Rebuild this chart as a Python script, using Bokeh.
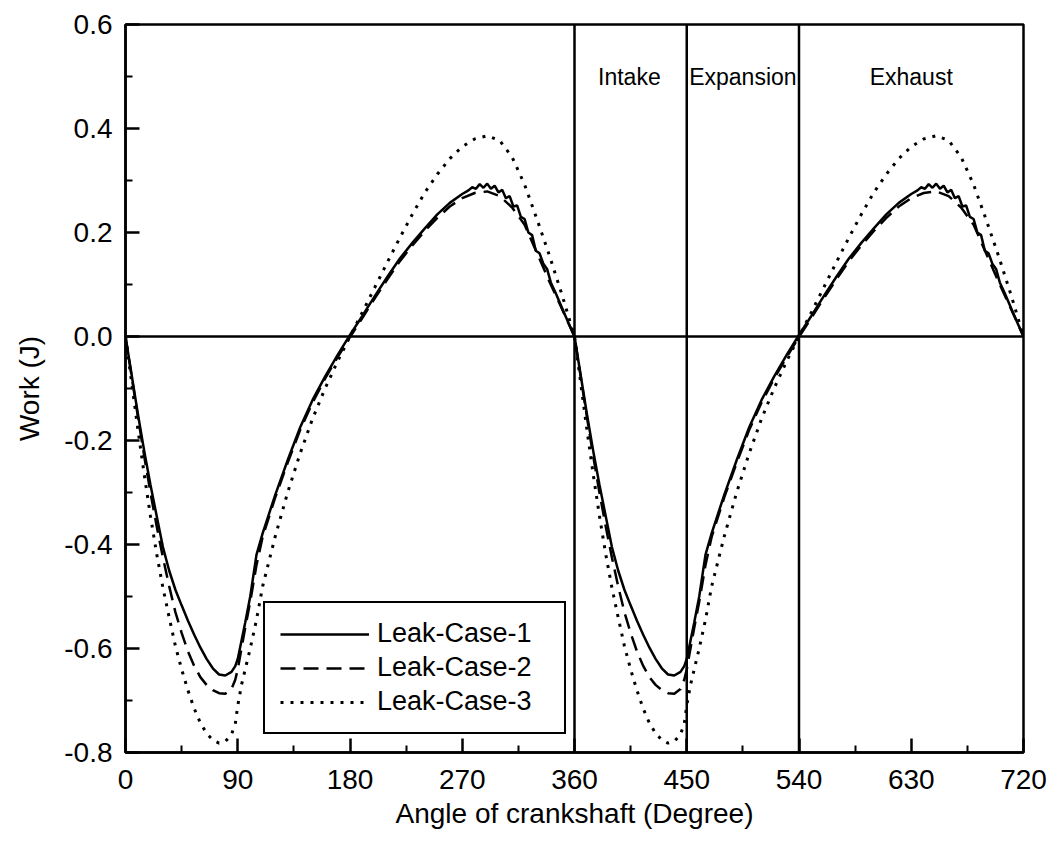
from bokeh.plotting import figure
from bokeh.models import Span, Label, FixedTicker, PrintfTickFormatter
from bokeh.embed import file_html
from bokeh.resources import INLINE

# ---------------- data ----------------
angle_solid = [0, 5, 10, 15, 20, 25, 30, 35, 40, 45, 50, 55, 60, 65, 70, 75, 80, 85, 88, 90,
               93, 96, 100, 105, 110, 120, 130, 140, 150, 160, 170, 180, 190, 200, 210, 220,
               230, 240, 250, 260, 270, 275, 278, 281, 284, 287, 290, 293, 296, 299, 302, 305,
               308, 311, 314, 317, 320, 323, 326, 329, 332, 335, 338, 341, 345, 350, 355, 360,
               365, 370, 375, 380, 385, 390, 395, 400, 405, 410, 415, 420, 425, 430, 435, 440,
               445, 448, 450, 453, 456, 460, 465, 470, 480, 490, 500, 510, 520, 530, 540, 550,
               560, 570, 580, 590, 600, 610, 620, 630, 635, 638, 641, 644, 647, 650, 653, 656,
               659, 662, 665, 668, 671, 674, 677, 680, 683, 686, 689, 692, 695, 698, 701, 705,
               710, 715, 720]
leak_case_1 = [0, -0.075, -0.15, -0.22, -0.285, -0.345, -0.405, -0.45, -0.487, -0.517, -0.546,
               -0.573, -0.598, -0.62, -0.638, -0.65, -0.652, -0.645, -0.634, -0.62, -0.585, -0.55,
               -0.5, -0.42, -0.378, -0.305, -0.238, -0.175, -0.122, -0.077, -0.036, 0.003, 0.04,
               0.078, 0.115, 0.15, 0.18, 0.208, 0.235, 0.257, 0.274, 0.281, 0.287, 0.284, 0.293,
               0.286, 0.294, 0.284, 0.29, 0.277, 0.282, 0.266, 0.27, 0.25, 0.252, 0.23, 0.226,
               0.2, 0.195, 0.165, 0.16, 0.14, 0.13, 0.104, 0.083, 0.055, 0.027, 0,
               -0.075, -0.15, -0.22, -0.285, -0.345, -0.405, -0.45, -0.487, -0.517, -0.546,
               -0.573, -0.598, -0.62, -0.638, -0.65, -0.652, -0.645, -0.634, -0.62, -0.585, -0.55,
               -0.5, -0.42, -0.378, -0.305, -0.238, -0.175, -0.122, -0.077, -0.036, 0.003, 0.04,
               0.078, 0.115, 0.15, 0.18, 0.208, 0.235, 0.257, 0.274, 0.281, 0.287, 0.284, 0.293,
               0.286, 0.294, 0.284, 0.29, 0.277, 0.282, 0.266, 0.27, 0.25, 0.252, 0.23, 0.226,
               0.2, 0.195, 0.165, 0.16, 0.14, 0.13, 0.104, 0.083, 0.055, 0.027, 0]

angle = [0, 5, 10, 15, 20, 25, 30, 35, 40, 45, 50, 55, 60, 65, 70, 75, 80, 85, 88, 90, 93, 96,
         100, 105, 110, 120, 130, 140, 150, 160, 170, 180, 190, 200, 210, 220, 230, 240, 250,
         260, 270, 280, 290, 300, 310, 320, 330, 340, 350, 360,
         365, 370, 375, 380, 385, 390, 395, 400, 405, 410, 415, 420, 425, 430, 435, 440, 445,
         448, 450, 453, 456, 460, 465, 470, 480, 490, 500, 510, 520, 530, 540, 550, 560, 570,
         580, 590, 600, 610, 620, 630, 640, 650, 660, 670, 680, 690, 700, 710, 720]
leak_case_2 = [0, -0.078, -0.155, -0.23, -0.3, -0.365, -0.425, -0.48, -0.53, -0.57, -0.605,
               -0.633, -0.655, -0.67, -0.68, -0.686, -0.687, -0.678, -0.66, -0.64, -0.6, -0.56,
               -0.51, -0.44, -0.385, -0.31, -0.243, -0.18, -0.127, -0.081, -0.04, -0.001, 0.036,
               0.074, 0.11, 0.145, 0.175, 0.203, 0.228, 0.25, 0.266, 0.276, 0.279, 0.27, 0.248,
               0.215, 0.16, 0.105, 0.053, 0,
               -0.078, -0.155, -0.23, -0.3, -0.365, -0.425, -0.48, -0.53, -0.57, -0.605,
               -0.633, -0.655, -0.67, -0.68, -0.686, -0.687, -0.678, -0.66, -0.64, -0.6, -0.56,
               -0.51, -0.44, -0.385, -0.31, -0.243, -0.18, -0.127, -0.081, -0.04, -0.001, 0.036,
               0.074, 0.11, 0.145, 0.175, 0.203, 0.228, 0.25, 0.266, 0.276, 0.279, 0.27, 0.248,
               0.215, 0.16, 0.105, 0.053, 0]
leak_case_3 = [0, -0.09, -0.18, -0.265, -0.345, -0.418, -0.483, -0.54, -0.595, -0.64, -0.68,
               -0.715, -0.743, -0.763, -0.776, -0.782, -0.779, -0.765, -0.745, -0.71, -0.67,
               -0.64, -0.6, -0.545, -0.48, -0.385, -0.3, -0.225, -0.158, -0.1, -0.048, 0.0,
               0.047, 0.095, 0.143, 0.19, 0.235, 0.277, 0.312, 0.342, 0.365, 0.38, 0.386, 0.377,
               0.345, 0.292, 0.225, 0.155, 0.08, 0,
               -0.09, -0.18, -0.265, -0.345, -0.418, -0.483, -0.54, -0.595, -0.64, -0.68,
               -0.715, -0.743, -0.763, -0.776, -0.782, -0.779, -0.765, -0.745, -0.71, -0.67,
               -0.64, -0.6, -0.545, -0.48, -0.385, -0.3, -0.225, -0.158, -0.1, -0.048, 0.0,
               0.047, 0.095, 0.143, 0.19, 0.235, 0.277, 0.312, 0.342, 0.365, 0.38, 0.386, 0.377,
               0.345, 0.292, 0.225, 0.155, 0.08, 0]

series_names = ["Leak-Case-1", "Leak-Case-2", "Leak-Case-3"]
x_major_ticks = [0, 90, 180, 270, 360, 450, 540, 630, 720]
x_minor_ticks = [45, 135, 225, 315, 405, 495, 585, 675]
y_major_ticks = [-0.8, -0.6, -0.4, -0.2, 0.0, 0.2, 0.4, 0.6]
y_minor_ticks = [-0.7, -0.5, -0.3, -0.1, 0.1, 0.3, 0.5]
stroke_dividers = [360, 450, 540]
stroke_labels = ["Intake", "Expansion", "Exhaust"]
stroke_label_x = [404, 495, 630]
stroke_label_y = 0.5

FONT = "Liberation Sans"

p = figure(width=1048, height=855, x_range=(0, 720), y_range=(-0.8, 0.6),
           output_backend="svg", toolbar_location=None,
           min_border_left=125, min_border_right=25, min_border_top=24, min_border_bottom=103)
p.background_fill_color = "white"
p.border_fill_color = "white"
p.xgrid.grid_line_color = None
p.ygrid.grid_line_color = None
p.outline_line_color = "black"
p.outline_line_width = 2.5
p.outline_line_alpha = 1

for ax in (p.xaxis[0], p.yaxis[0]):
    ax.axis_line_width = 2.5
    ax.major_tick_line_width = 2.5
    ax.minor_tick_line_width = 2
    ax.major_tick_in = 14
    ax.major_tick_out = 0
    ax.minor_tick_in = 7
    ax.minor_tick_out = 0
    ax.major_label_text_font = FONT
    ax.major_label_text_font_size = "28px"
    ax.major_label_text_color = "black"
    ax.axis_label_text_font = FONT
    ax.axis_label_text_font_style = "normal"
    ax.axis_label_text_color = "black"
    ax.axis_label_text_font_size = "28px"

p.xaxis.ticker = FixedTicker(ticks=x_major_ticks, minor_ticks=x_minor_ticks)
p.yaxis.ticker = FixedTicker(ticks=y_major_ticks, minor_ticks=y_minor_ticks)
p.yaxis.formatter = PrintfTickFormatter(format="%.1f")
p.xaxis.axis_label = "Angle of crankshaft (Degree)"
p.yaxis.axis_label = "Work (J)"
p.xaxis.major_label_standoff = 17
p.yaxis.major_label_standoff = 13
p.xaxis.axis_label_standoff = 6
p.yaxis.axis_label_standoff = 16

# reference lines
p.add_layout(Span(location=0, dimension="width", line_color="black", line_width=2.5))
for d in stroke_dividers:
    p.add_layout(Span(location=d, dimension="height", line_color="black", line_width=2.5))

for t, xx in zip(stroke_labels, stroke_label_x):
    p.add_layout(Label(x=xx, y=stroke_label_y, text=t, text_align="center",
                       text_baseline="middle", text_font=FONT, text_font_size="23px",
                       text_color="black"))

p.line(angle_solid, leak_case_1, line_color="black", line_width=2.5,
       legend_label=series_names[0])
p.line(angle, leak_case_2, line_color="black", line_width=2.5, line_dash="15 8",
       legend_label=series_names[1])
p.line(angle, leak_case_3, line_color="black", line_width=3, line_dash="3 7",
       legend_label=series_names[2])

lg = p.legend[0]
lg.location = (138, 18)
lg.border_line_color = "black"
lg.border_line_width = 2
lg.border_line_alpha = 1
lg.background_fill_color = "white"
lg.background_fill_alpha = 1
lg.label_text_font = FONT
lg.label_text_font_size = "27px"
lg.label_text_color = "black"
lg.glyph_width = 89
lg.glyph_height = 28
lg.label_height = 28
lg.label_width = 172
lg.label_standoff = 8
lg.spacing = 3
lg.padding = 15
lg.margin = 0

open("out.html", "w").write(file_html(p, INLINE))
